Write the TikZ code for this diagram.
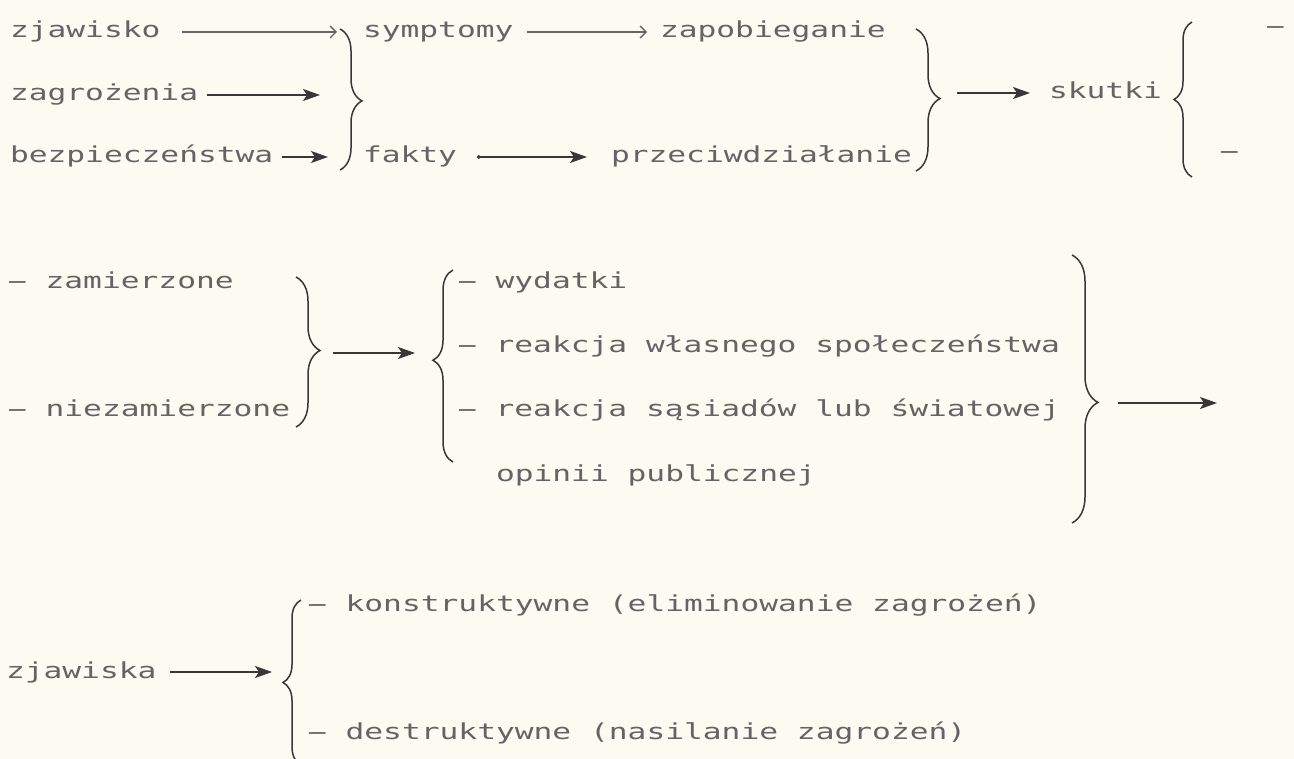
\documentclass[tikz,border=0pt]{standalone}
\usepackage{fontspec}
\usepackage{graphicx}
\newfontfamily\dm[FakeStretch=1.42]{DejaVu Sans Mono}
\usetikzlibrary{decorations.pathreplacing,arrows.meta}
\definecolor{paper}{RGB}{252,251,242}
\definecolor{ink}{RGB}{100,100,100}
\definecolor{pen}{RGB}{55,55,55}
\newcommand{\hy}{\makebox[\fontcharwd\font`\-][c]{\scalebox{2.1}[1]{-}}}
\begin{document}
\begin{tikzpicture}[x=1pt,y=-1pt,
  txt/.style={anchor=west,inner sep=0pt,outer sep=0pt,text height=16pt,text depth=4pt,text=ink,font=\dm\fontsize{22}{22}\selectfont},
  brc/.style n args={2}{draw=pen,line width=1.5pt,decorate,decoration={brace,amplitude=#1,aspect=#2}},
  penarrow/.style={draw=pen,line width=1.5pt,-{Stealth[length=17pt,width=12pt,inset=4pt]}},
  typed/.style={draw=ink,line width=1.3pt,-{Straight Barb[length=6pt,width=12pt]}}]
\fill[paper] (0,0) rectangle (1294,759);
\useasboundingbox (0,0) rectangle (1294,759);
\clip (0,0) rectangle (1294,759);
% section 1
\node[txt] (zjawisko) at (10,32) {zjawisko};
\node[txt] (symptomy) at (363,32) {symptomy};
\node[txt] (zapob) at (660,32) {zapobieganie};
\node[txt] (dash1) at (1266,28) {\hy};
\node[txt] (zagr) at (10,95) {zagrożenia};
\node[txt] (skutki) at (1049,93) {skutki};
\node[txt] (bezp) at (10,157) {bezpieczeństwa};
\node[txt] (fakty) at (363,157) {fakty};
\node[txt] (przec) at (611,157) {przeciwdziałanie};
\node[txt] (dash2) at (1220,153) {\hy};
% section 2
\node[txt] (zam) at (8,283) {\hy{} zamierzone};
\node[txt] (niezam) at (8,411) {\hy{} niezamierzone};
\node[txt] (wyd) at (458,283) {\hy{} wydatki};
\node[txt] (reak1) at (458,347) {\hy{} reakcja własnego społeczeństwa};
\node[txt] (reak2) at (458,411) {\hy{} reakcja sąsiadów lub światowej};
\node[txt] (opinii) at (496,475) {opinii publicznej};
% section 3
\node[txt] (konstr) at (308,605) {\hy{} konstruktywne (eliminowanie zagrożeń)};
\node[txt] (zjawiska) at (6,672) {zjawiska};
\node[txt] (destr) at (308,733) {\hy{} destruktywne (nasilanie zagrożeń)};
% braces
\draw[brc={22pt}{0.51}] (340,29) -- (340,170);
\draw[brc={24pt}{0.49}] (916,29) -- (916,171);
\draw[brc={18pt}{0.5}] (1192,177) -- (1192,22);
\draw[brc={24pt}{0.49}] (296,277) -- (296,427);
\draw[brc={20pt}{0.53}] (453,462) -- (453,270);
\draw[brc={26pt}{0.55}] (1072,255) -- (1072,523);
\draw[brc={18pt}{0.5}] (301,765) -- (301,600);
% connector points
\coordinate (e1) at (337,32);
\coordinate (e3) at (320,95);
\coordinate (e4) at (328,157);
\coordinate (t2) at (940,93);
\coordinate (t4) at (320,353);
\coordinate (t5) at (433,353);
\coordinate (t6) at (1098,403);
\coordinate (e8) at (1217,403);
\coordinate (t7) at (283,672);
% connectors
\draw[typed,shorten <=22pt] (zjawisko.east) -- (e1);
\draw[typed,shorten <=14pt,shorten >=13pt] (symptomy.east) -- (zapob.west);
\draw[penarrow,shorten <=9pt] (zagr.east) -- (e3);
\draw[penarrow,shorten <=9pt] (bezp.east) -- (e4);
\draw[penarrow,{Circle[length=3.5pt]}-{Stealth[length=17pt,width=12pt,inset=4pt]},shorten <=20pt,shorten >=24pt] (fakty.east) -- (przec.west);
\draw[penarrow,shorten <=17pt,shorten >=19pt] (t2) -- (skutki.west);
\draw[penarrow,shorten <=13pt,shorten >=18pt] (t4) -- (t5);
\draw[penarrow,shorten <=20pt] (t6) -- (e8);
\draw[penarrow,shorten <=14pt,shorten >=11pt] (zjawiska.east) -- (t7);
\end{tikzpicture}
\end{document}
